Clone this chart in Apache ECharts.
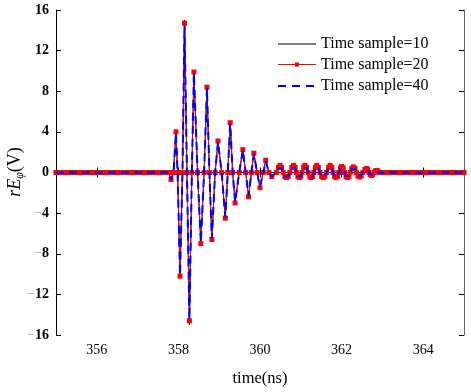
<!DOCTYPE html>
<html>
<head>
<meta charset="utf-8">
<script src="https://cdn.jsdelivr.net/npm/echarts@6/dist/echarts.min.js"></script>
<style>html,body{margin:0;padding:0;background:#fff}#c{width:471px;height:392px}</style>
</head>
<body>
<div id="c"></div>
<script>
// time (ns)
var timeNs = [
  355.0,355.1,355.2,355.3,355.4,355.5,355.6,355.7,355.8,355.9,
  356.0,356.1,356.2,356.3,356.4,356.5,356.6,356.7,356.8,356.9,
  357.0,357.1,357.2,357.3,357.4,357.5,357.6,357.7,
  357.76,357.82,357.88,357.94,357.98,358.04,358.10,358.15,358.21,358.27,
  358.33,358.38,358.47,358.55,358.63,358.70,358.76,358.82,358.90,358.97,
  359.06,359.15,359.21,359.27,359.33,359.39,359.49,359.58,359.65,359.72,
  359.79,359.85,359.93,360.00,360.08,360.14,360.22,360.29,
  360.40,360.45,360.49,360.53,360.57,360.61,360.65,360.69,
  360.73,360.78,360.82,360.86,360.89,360.93,360.96,361.00,
  361.03,361.07,361.10,361.14,361.18,361.22,361.25,361.29,
  361.32,361.36,361.39,361.43,361.47,361.51,361.55,361.59,
  361.63,361.68,361.72,361.76,361.79,361.83,361.86,361.90,
  361.93,361.97,362.00,362.04,362.07,362.11,362.14,362.18,
  362.21,362.25,362.29,362.33,362.36,362.40,362.44,362.48,
  362.52,362.57,362.61,362.64,362.67,362.70,362.73,362.76,
  362.80,362.83,362.86,362.89,362.93,
  363.0,363.1,363.2,363.3,363.4,363.5,363.6,363.7,363.8,363.9,
  364.0,364.1,364.2,364.3,364.4,364.5,364.6,364.7,364.8,364.9,365.0
];
// rE_phi (V), Time sample=10
var sample10 = [
  0,0,0,0,0,0,0,0,0,0,
  0,0,0,0,0,0,0,0,0,0,
  0,0,0,0,0,0,0,0,
  0,-0.7,0,4.0,0,-10.4,0,15.0,0,-15.0,
  0,9.9,0,-7.0,0,8.4,0,-6.6,0,3.1,
  0,-4.5,0,4.9,0,-3.0,0,2.25,0,-2.4,
  0,1.9,0,-1.5,0,1.2,0,-0.4,
  0,0.5,0.7,0.5,0,-0.4,-0.5,-0.4,
  0,0.5,0.7,0.5,0,-0.4,-0.5,-0.4,
  0,0.5,0.7,0.5,0,-0.4,-0.5,-0.4,
  0,0.5,0.7,0.5,0,-0.4,-0.5,-0.4,
  0,0.5,0.7,0.5,0,-0.4,-0.5,-0.4,
  0,0.45,0.6,0.45,0,-0.4,-0.5,-0.4,
  0,0.4,0.55,0.4,0,-0.35,-0.45,-0.35,
  0,0.3,0.4,0.3,0,-0.2,-0.3,-0.2,
  0,0.15,0.2,0.15,0,
  0,0,0,0,0,0,0,0,0,0,
  0,0,0,0,0,0,0,0,0,0,0
];
// Time sample=20
var sample20 = [
  0,0,0,0,0,0,0,0,0,0,
  0,0,0,0,0,0,0,0,0,0,
  0,0,0,0,0,0,0,0,
  0,-0.7,0,4.0,0,-10.2,0,14.7,0,-14.6,
  0,9.9,0,-7.0,0,8.4,0,-6.6,0,3.1,
  0,-4.5,0,4.9,0,-3.0,0,2.25,0,-2.4,
  0,1.9,0,-1.5,0,1.2,0,-0.4,
  0,0.5,0.7,0.5,0,-0.4,-0.5,-0.4,
  0,0.5,0.7,0.5,0,-0.4,-0.5,-0.4,
  0,0.5,0.7,0.5,0,-0.4,-0.5,-0.4,
  0,0.5,0.7,0.5,0,-0.4,-0.5,-0.4,
  0,0.5,0.7,0.5,0,-0.4,-0.5,-0.4,
  0,0.45,0.6,0.45,0,-0.4,-0.5,-0.4,
  0,0.4,0.55,0.4,0,-0.35,-0.45,-0.35,
  0,0.3,0.4,0.3,0,-0.2,-0.3,-0.2,
  0,0.15,0.2,0.15,0,
  0,0,0,0,0,0,0,0,0,0,
  0,0,0,0,0,0,0,0,0,0,0
];
// Time sample=40
var sample40 = [
  0,0,0,0,0,0,0,0,0,0,
  0,0,0,0,0,0,0,0,0,0,
  0,0,0,0,0,0,0,0,
  0,-0.7,0,3.9,0,-10.1,0,14.5,0,-14.5,
  0,9.8,0,-6.9,0,8.3,0,-6.5,0,3.0,
  0,-4.4,0,4.8,0,-2.9,0,2.2,0,-2.3,
  0,1.8,0,-1.4,0,1.1,0,-0.4,
  0,0.45,0.6,0.45,0,-0.4,-0.5,-0.4,
  0,0.45,0.6,0.45,0,-0.4,-0.5,-0.4,
  0,0.45,0.6,0.45,0,-0.4,-0.5,-0.4,
  0,0.45,0.6,0.45,0,-0.4,-0.5,-0.4,
  0,0.45,0.6,0.45,0,-0.4,-0.5,-0.4,
  0,0.4,0.55,0.4,0,-0.35,-0.45,-0.35,
  0,0.35,0.5,0.35,0,-0.3,-0.4,-0.3,
  0,0.25,0.35,0.25,0,-0.2,-0.25,-0.2,
  0,0.1,0.15,0.1,0,
  0,0,0,0,0,0,0,0,0,0,
  0,0,0,0,0,0,0,0,0,0,0
];
var seriesNames = ['Time sample=10','Time sample=20','Time sample=40'];
var xTicks = [356,358,360,362,364];

function pairs(vals){ return timeNs.map(function(t,i){ return [t, vals[i]]; }); }

var serif = '"Liberation Serif","Times New Roman",serif';
var chart = echarts.init(document.getElementById('c'));
var axisLine = {show:true, lineStyle:{color:'#000', width:1}};

// legend drawn as graphic (line-only icons like the reference)
var legendRowsY = [44, 64.5, 86];
var legendX0 = 278, legendX1 = 316, legendTextX = 321;
var legendGraphics = [];
var legendColors = ['#000000','#ff0000','#0000ff'];
seriesNames.forEach(function(name, i){
  var y = legendRowsY[i];
  legendGraphics.push({type:'line', shape:{x1:legendX0, y1:y, x2:legendX1, y2:y},
    style:{stroke:legendColors[i], lineWidth: i===2 ? 2 : 1, lineDash: i===2 ? [8,6] : null}, z:100});
  if (i === 1) {
    legendGraphics.push({type:'rect', shape:{x:(legendX0+legendX1)/2-2, y:y-2, width:4, height:4},
      style:{fill:'#ff0000'}, z:101});
  }
  legendGraphics.push({type:'text', x:legendTextX, y:y,
    style:{text:name, fontFamily:serif, fontSize:16, fill:'#000', textVerticalAlign:'middle', textAlign:'left'}, z:100});
});

chart.setOption({
  animation:false,
  backgroundColor:'#fff',
  grid:{left:56, right:7, top:10, bottom:55, containLabel:false},
  xAxis:[{
    type:'value', min:355, max:365, interval:2, position:'bottom',
    axisLine:axisLine, splitLine:{show:false},
    axisLabel:{fontFamily:serif, fontSize:14, color:'#000', margin:8,
      customValues:xTicks, formatter:function(v){return String(v);}},
    axisTick:{show:true, inside:true, length:5, lineStyle:{color:'#000'}, customValues:xTicks},
    name:'time(ns)', nameLocation:'middle', nameGap:35,
    nameTextStyle:{fontFamily:serif, fontSize:16.5, color:'#000'}
  },{
    type:'value', min:355, max:365, interval:2, position:'top',
    axisLine:axisLine, axisLabel:{show:false}, splitLine:{show:false},
    axisTick:{show:true, inside:true, length:5, lineStyle:{color:'#000'}, customValues:xTicks}
  }],
  yAxis:[{
    type:'value', min:-16, max:16, interval:4, position:'left',
    axisLine:axisLine, splitLine:{show:false},
    axisTick:{show:true, inside:true, length:5, lineStyle:{color:'#000'}},
    axisLabel:{fontFamily:serif, fontSize:14, fontWeight:'bold', color:'#000', margin:7,
      formatter:function(v){ return v<0 ? '{m|\u2212}{b|'+Math.abs(v)+'}' : '{b|'+v+'}'; },
      rich:{m:{color:'#bbbbbb', fontFamily:serif, fontSize:14, fontWeight:'bold'},
            b:{color:'#000', fontFamily:serif, fontSize:14, fontWeight:'bold'}}}
  },{
    type:'value', min:-16, max:16, interval:4, position:'right',
    axisLine:{show:true, lineStyle:{color:'#666', width:1}}, axisLabel:{show:false}, splitLine:{show:false},
    axisTick:{show:true, inside:true, length:5, lineStyle:{color:'#000'}}
  }],
  graphic:[{
    type:'text', x:15, y:172, rotation:Math.PI/2,
    style:{
      text:'{i|rE}{s|\u03c6}{n|(V)}',
      textAlign:'center', textVerticalAlign:'middle',
      rich:{
        i:{fontFamily:serif, fontSize:18, fontStyle:'italic', fill:'#000', lineHeight:22},
        s:{fontFamily:serif, fontSize:12, fontStyle:'italic', fill:'#000', verticalAlign:'bottom', lineHeight:22, padding:[9,0,0,0]},
        n:{fontFamily:serif, fontSize:18, fill:'#000', lineHeight:22}
      }
    }
  }].concat(legendGraphics),
  series:[
    {name:seriesNames[0], type:'line', data:pairs(sample10), symbol:'none',
      lineStyle:{color:'#000', width:1}, itemStyle:{color:'#000'}, z:2},
    {name:seriesNames[1], type:'line', data:pairs(sample20), symbol:'rect', symbolSize:5, showSymbol:true,
      lineStyle:{color:'#ff0000', width:1}, itemStyle:{color:'#ff0000'}, z:3},
    {name:seriesNames[2], type:'line', data:pairs(sample40), symbol:'none',
      lineStyle:{color:'#0000ff', width:2, type:[8,5]}, itemStyle:{color:'#0000ff'}, z:4}
  ]
});
</script>
</body>
</html>
